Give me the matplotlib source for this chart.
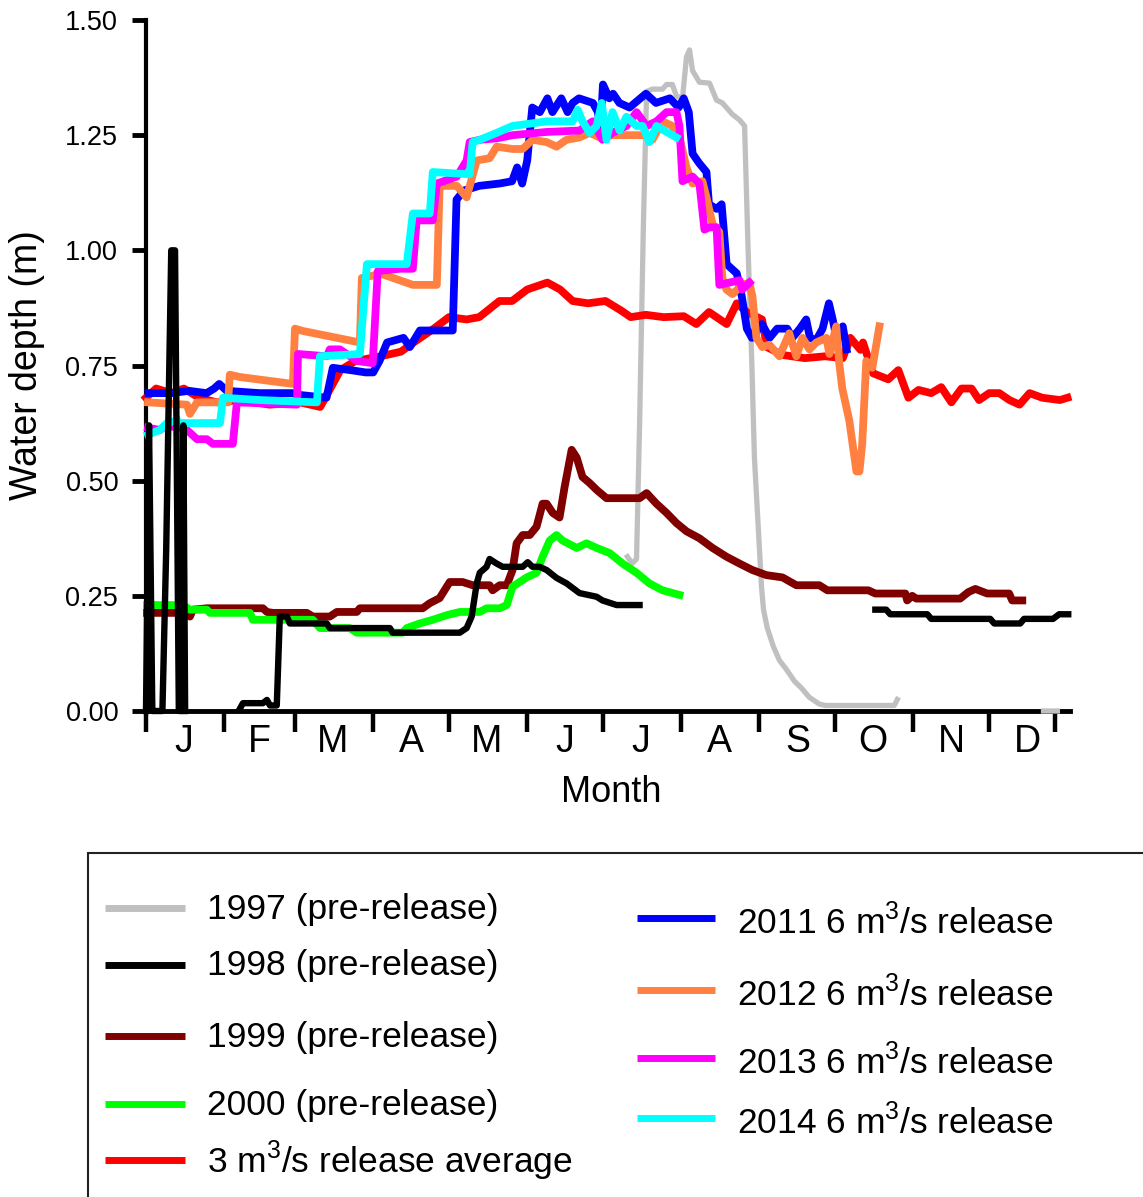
import matplotlib
matplotlib.use('Agg')
import matplotlib.pyplot as plt
import numpy as np
from matplotlib.lines import Line2D
from matplotlib.patches import Rectangle

plt.rcParams['font.family'] = ['Liberation Sans', 'DejaVu Sans']
plt.rcParams['mathtext.fontset'] = 'custom'
plt.rcParams['mathtext.rm'] = 'Liberation Sans'

nan = np.nan

# x = day of year, y = water depth (m)
month_starts = [0, 31, 59, 90, 120, 151, 181, 212, 243, 273, 304, 334, 360]
month_mids = [15, 45, 74, 105, 135, 166, 196, 227, 258, 288, 319, 349]
month_letters = ['J', 'F', 'M', 'A', 'M', 'J', 'J', 'A', 'S', 'O', 'N', 'D']
y_ticks = [0.0, 0.25, 0.5, 0.75, 1.0, 1.25, 1.5]

gray97_day = [190.7, 192.5, 194.3, 195.5, 197, 198.3, 200.6, 204.6, 206.2, 208.5, 210.1, 212.5, 214.1,
              215.3, 216.5, 219.2, 223.2, 226, 228.3, 232.3, 235.1, 237.1, 238.5, 240, 241, 242.5,
              243.8, 244.6, 246.1, 248.5, 250.9, 253.7, 256.8, 259.6, 262.7, 266.7, 269.1, 296.4,
              297.6, nan, 355.5, 361]
gray97_m = [0.335, 0.32, 0.33, 0.62, 1.05, 1.345, 1.35, 1.35, 1.36, 1.36, 1.335, 1.33, 1.42,
            1.435, 1.39, 1.365, 1.363, 1.326, 1.32, 1.295, 1.283, 1.27, 1.0, 0.75, 0.55, 0.40,
            0.27, 0.22, 0.18, 0.14, 0.11, 0.09, 0.065, 0.05, 0.03, 0.015, 0.012, 0.012,
            0.025, nan, 0.0, 0.0]

black98_day = [0, 1.2, 2.5, 4, 6.5, 8, 10, 11.5, 13, 14.2, 14.8, 15.5, nan,
               37.2, 38.4, 46.3, 47.9, 49.1, 51.8, 53, 55.8, 57, 71.6, 72.8, 96.6, 97.7, 124.3,
               127, 129, 131, 132.2, 134.9, 136.1, 138.9, 141.3, 149.2, 151.2, 153.1, 155.9,
               158.7, 162.6, 166.6, 171.7, 178.5, 180.8, 186.4, 195.5, nan,
               288.9, 293.2, 294.8, 309.5, 311, 334.4, 336, 346.3, 347.8, 359.3, 361.7, 365.3]
black98_m = [0.0, 0.62, 0.0, 0.0, 0.0, 0.35, 1.0, 1.0, 0.0, 0.0, 0.62, 0.0, nan,
             0.005, 0.017, 0.017, 0.024, 0.012, 0.012, 0.205, 0.205, 0.19, 0.19, 0.18, 0.18, 0.17, 0.17,
             0.18, 0.205, 0.277, 0.30, 0.313, 0.33, 0.32, 0.313, 0.313, 0.323, 0.313, 0.313,
             0.306, 0.289, 0.277, 0.256, 0.248, 0.24, 0.23, 0.23, nan,
             0.22, 0.22, 0.21, 0.21, 0.20, 0.20, 0.19, 0.19, 0.20, 0.20, 0.21, 0.21]

maroon99_day = [0.4, 14.6, 17.4, 18.6, 24.1, 46.3, 47.9, 50.3, 63.7, 66.1, 72.8, 75.6, 83.5, 84.7,
                109.6, 112.4, 116.3, 120.3, 125.4, 129.4, 136.1, 137.3, 140.1, 142.9, 145.2, 146.8,
                149.2, 152, 154.7, 157.1, 158.7, 161.1, 163.8, 165.8, 168.6, 170.6, 172.9, 175.7,
                178.5, 182.4, 195.5, 198.3, 202.2, 206.2, 210.1, 214.1, 219.2, 224.4, 229.9, 235.1,
                240.2, 245.7, 252.1, 257.6, 266.7, 269.9, 286.1, 288.9, 300.8, 301.5, 303.5, 305.1,
                322.5, 325.7, 328.5, 333.2, 341.9, 343.1, 347.1]
maroon99_m = [0.213, 0.213, 0.205, 0.22, 0.223, 0.223, 0.215, 0.213, 0.213, 0.205, 0.205, 0.215, 0.215, 0.223,
              0.223, 0.234, 0.245, 0.28, 0.28, 0.273, 0.273, 0.262, 0.273, 0.273, 0.306, 0.364,
              0.382, 0.382, 0.40, 0.45, 0.45, 0.43, 0.42, 0.486, 0.567, 0.55, 0.508, 0.495,
              0.48, 0.462, 0.462, 0.473, 0.45, 0.43, 0.408, 0.39, 0.375, 0.354, 0.335, 0.32,
              0.306, 0.295, 0.29, 0.273, 0.273, 0.262, 0.262, 0.255, 0.255, 0.24, 0.25, 0.244,
              0.244, 0.258, 0.265, 0.255, 0.255, 0.24, 0.24]

green00_day = [0.4, 14.6, 17.4, 24.1, 25.3, 41.2, 42.3, 66.1, 68.9, 80.7, 83.5, 101.7, 103.3, 108.4,
               113.6, 119.1, 124.3, 132.2, 134.9, 140.1, 142.9, 145.2, 150.8, 154.7, 157.1, 159.9,
               162.6, 165, 170.6, 174.5, 178.5, 183.6, 188.8, 194.3, 199.4, 204.6, 211.3]
green00_m = [0.23, 0.23, 0.22, 0.22, 0.213, 0.213, 0.198, 0.198, 0.18, 0.18, 0.17, 0.17, 0.18, 0.19,
             0.198, 0.208, 0.215, 0.215, 0.223, 0.223, 0.23, 0.27, 0.29, 0.30, 0.335, 0.37,
             0.382, 0.37, 0.354, 0.364, 0.354, 0.343, 0.32, 0.30, 0.277, 0.262, 0.252]

red_day = [0, 4, 10, 15, 21, 28, 37, 49, 61, 69, 73, 77, 83, 93, 101, 106, 114, 120, 127, 132,
           140, 145, 151, 159, 164, 169, 175, 182, 188, 192, 198, 205, 213, 218, 223, 230, 234, 238,
           244, 246, 252, 261, 269, 276, 279, 283, 284, 288, 294, 298, 302, 306, 311, 315, 319, 323,
           327, 330, 334, 338, 342, 346, 350, 355, 362, 365]
red_m = [0.68, 0.70, 0.69, 0.70, 0.68, 0.67, 0.675, 0.665, 0.67, 0.66, 0.70, 0.74, 0.76, 0.77, 0.78,
         0.80, 0.83, 0.855, 0.85, 0.855, 0.89, 0.89, 0.915, 0.93, 0.915, 0.89, 0.885, 0.89, 0.87,
         0.855, 0.86, 0.855, 0.857, 0.84, 0.866, 0.84, 0.885, 0.866, 0.85, 0.79, 0.773, 0.766, 0.77,
         0.766, 0.81, 0.784, 0.80, 0.733, 0.72, 0.74, 0.68, 0.697, 0.69, 0.703, 0.67, 0.70, 0.70,
         0.675, 0.69, 0.69, 0.675, 0.665, 0.69, 0.68, 0.675, 0.68]

blue11_day = [1, 10, 17, 24, 27, 29, 32, 45, 58, 61, 71.5, 74, 81, 87, 90, 92.5, 95.5, 102, 104.5, 108.5,
              121.5, 123, 126, 132, 140, 145, 147, 149, 151, 153, 156, 159, 161, 164.5, 167, 169, 171.5,
              177, 179, 180, 181, 183.5, 185, 187.5, 191.5, 198, 202, 207.5, 211, 213, 215, 216.5, 219,
              222, 223, 226, 228, 230, 234, 236, 238, 240, 244, 247, 250, 254, 256, 259, 261.5, 263,
              265.5, 268, 270.5, 272, 273.5, 276, 277.5]
blue11_m = [0.69, 0.69, 0.695, 0.69, 0.70, 0.71, 0.695, 0.69, 0.69, 0.686, 0.68, 0.745, 0.74, 0.735,
            0.735, 0.76, 0.80, 0.81, 0.79, 0.826, 0.826, 1.11, 1.13, 1.14, 1.145, 1.15, 1.18, 1.145,
            1.195, 1.31, 1.30, 1.33, 1.30, 1.33, 1.30, 1.32, 1.33, 1.32, 1.30, 1.26, 1.36, 1.33, 1.34,
            1.32, 1.31, 1.34, 1.32, 1.33, 1.31, 1.33, 1.30, 1.21, 1.19, 1.17, 1.10, 1.09, 1.10, 0.97,
            0.95, 0.90, 0.83, 0.81, 0.84, 0.81, 0.83, 0.83, 0.81, 0.83, 0.85, 0.81, 0.805, 0.83, 0.885,
            0.85, 0.81, 0.835, 0.785]

orange12_day = [0.8, 16.2, 17.4, 20.2, 29.3, 32.5, 33.2, 37.2, 58.2, 59, 62.1, 84.7, 85.5, 89.8, 92.6,
                100.5, 105.7, 115.2, 116.3, 123.1, 127, 131, 136.1, 138.9, 145.2, 149.2, 153.1, 158.7,
                162.6, 166.6, 171.7, 175.7, 179.7, 184.8, 198.3, 200.6, 204.6, 208.5, 211.3, 214.1,
                216.5, 220.4, 222, 224.4, 227.1, 228.3, 229.9, 232.3, 236.2, 239, 240.2, 241.8, 244.1,
                246.9, 250.9, 254.8, 257.6, 260, 262.8, 265.5, 269.5, 270.7, 273.4, 274.6, 275.8, 278.6,
                281.4, 282.6, 283.7, 285.3, 287.7, 290.5]
orange12_m = [0.67, 0.665, 0.645, 0.67, 0.67, 0.67, 0.73, 0.725, 0.71, 0.83, 0.825, 0.80, 0.94, 0.945,
              0.95, 0.935, 0.925, 0.925, 1.14, 1.14, 1.115, 1.195, 1.20, 1.225, 1.22, 1.22, 1.24, 1.235,
              1.225, 1.24, 1.245, 1.255, 1.245, 1.25, 1.25, 1.24, 1.28, 1.27, 1.245, 1.18, 1.145, 1.15,
              1.115, 1.057, 1.04, 0.94, 0.915, 0.905, 0.925, 0.93, 0.90, 0.81, 0.79, 0.795, 0.77, 0.82,
              0.77, 0.81, 0.785, 0.80, 0.81, 0.775, 0.835, 0.755, 0.70, 0.63, 0.52, 0.52, 0.58, 0.76,
              0.745, 0.835]

magenta13_day = [0.8, 5.5, 8.3, 16.2, 20.2, 24.1, 26.5, 34.4, 36, 59.8, 60.2, 71.6, 72.8, 76.8, 83.5,
                 89.8, 91.8, 100.5, 105.7, 107.2, 113.6, 115.2, 123.1, 127, 128.2, 132.2, 138.9, 145.2,
                 158.7, 171.7, 176.9, 180.8, 184.8, 190.3, 194.3, 198.3, 202.2, 206.2, 210.1, 211.3,
                 212.5, 216.5, 219.2, 221.2, 223.2, 226, 227.1, 235.1, 236.2, 239]
magenta13_m = [0.615, 0.61, 0.62, 0.61, 0.59, 0.59, 0.58, 0.58, 0.67, 0.665, 0.775, 0.77, 0.785, 0.785,
               0.76, 0.755, 0.955, 0.96, 0.96, 1.065, 1.065, 1.145, 1.16, 1.195, 1.235, 1.24, 1.243,
               1.25, 1.257, 1.26, 1.28, 1.24, 1.255, 1.27, 1.30, 1.27, 1.28, 1.30, 1.30, 1.27, 1.15,
               1.16, 1.145, 1.045, 1.05, 1.05, 0.925, 0.935, 0.915, 0.93]

cyan14_day = [0.8, 5.5, 8.3, 12.3, nan, 14.6, 29.3, 30.5, 45.1, 67.7, 68.9, 84.7, 87.5, 100.5, 103.3,
              105.7, 112.4, 113.6, 128.2, 129.4, 132.2, 138.9, 145.2, 152, 158.7, 169, 171, 172.9,
              175.7, 178.5, 180.5, 182.4, 184.8, 187.6, 190.3, 194.3, 196.7, 199.4, 202.2, 206.2, 210.1]
cyan14_m = [0.60, 0.61, 0.625, 0.63, nan, 0.625, 0.625, 0.68, 0.675, 0.67, 0.77, 0.775, 0.97, 0.97, 0.97,
            1.08, 1.08, 1.17, 1.165, 1.235, 1.24, 1.255, 1.27, 1.275, 1.28, 1.28, 1.305, 1.28,
            1.255, 1.27, 1.32, 1.24, 1.30, 1.26, 1.29, 1.27, 1.27, 1.235, 1.27, 1.257, 1.245]

m3 = r'm$^{\mathregular{3}}$/s'
labels_left = ['1997 (pre-release)', '1998 (pre-release)', '1999 (pre-release)',
               '2000 (pre-release)', '3 ' + m3 + ' release average']
colors_left = ['#c0c0c0', '#000000', '#800000', '#00ff00', '#ff0000']
labels_right = ['2011 6 ' + m3 + ' release', '2012 6 ' + m3 + ' release',
                '2013 6 ' + m3 + ' release', '2014 6 ' + m3 + ' release']
colors_right = ['#0000ff', '#ff8040', '#ff00ff', '#00ffff']

W, H = 1143, 1197
fig = plt.figure(figsize=(W / 100, H / 100), dpi=100)
ax = fig.add_axes([146 / W, 1 - 711 / H, (1070 - 146) / W, 691 / H])

lw = 5.6
kw = dict(clip_on=False, solid_joinstyle='round')
ax.plot(gray97_day, gray97_m, color=colors_left[0], lw=3.8, zorder=3, **kw)
ax.plot(red_day, red_m, color=colors_left[4], lw=lw, zorder=4, **kw)
ax.plot(blue11_day, blue11_m, color=colors_right[0], lw=lw, zorder=5, **kw)
ax.plot(orange12_day, orange12_m, color=colors_right[1], lw=lw, zorder=6, **kw)
ax.plot(magenta13_day, magenta13_m, color=colors_right[2], lw=lw, zorder=7, **kw)
ax.plot(cyan14_day, cyan14_m, color=colors_right[3], lw=lw, zorder=8, **kw)
ax.plot(maroon99_day, maroon99_m, color=colors_left[2], lw=lw, zorder=9, **kw)
ax.plot(green00_day, green00_m, color=colors_left[3], lw=lw, zorder=10, **kw)
ax.plot(black98_day, black98_m, color=colors_left[1], lw=4.6, zorder=11, **kw)

ax.set_xlim(0, 366)
ax.set_ylim(0, 1.5)
for s in ['top', 'right']:
    ax.spines[s].set_visible(False)
ax.spines['left'].set_linewidth(3)
ax.spines['bottom'].set_linewidth(3.5)

ax.set_yticks(y_ticks)
ax.set_yticklabels(['%.2f' % v for v in y_ticks], fontsize=19.5)
ax.tick_params(axis='y', direction='out', length=10, width=3.5, pad=10)

ax.set_xticks(month_starts)
ax.set_xticklabels([])
ax.set_xticks(month_mids, minor=True)
ax.set_xticklabels(month_letters, minor=True, fontsize=27)
ax.tick_params(axis='x', which='major', direction='out', length=15, width=3.2)
ax.tick_params(axis='x', which='minor', length=0, pad=9)

ax.set_xlabel('Month', fontsize=26)
ax.xaxis.set_label_coords(0.504, -0.093)
ax.set_ylabel('Water depth (m)', fontsize=27)
ax.yaxis.set_label_coords(-0.109, 0.5)

# legend box (cut off at the right and bottom)
fig.add_artist(Rectangle((88 / W, -0.05), 1.0, 1 - 853 / H + 0.05, transform=fig.transFigure,
                         fill=False, edgecolor='#222222', lw=1.5))

rows_left = [908, 965, 1036, 1104, 1160]
for lab, col, y in zip(labels_left, colors_left, rows_left):
    fig.add_artist(Line2D([105 / W, 185 / W], [1 - y / H, 1 - y / H], transform=fig.transFigure,
                          color=col, lw=5, solid_capstyle='butt'))
    fig.text(207 / W, 1 - (y + 1) / H, lab, fontsize=25.5, va='center', ha='left')

rows_right = [918, 990, 1058, 1118]
for lab, col, y in zip(labels_right, colors_right, rows_right):
    fig.add_artist(Line2D([637 / W, 715 / W], [1 - y / H, 1 - y / H], transform=fig.transFigure,
                          color=col, lw=5, solid_capstyle='butt'))
    fig.text(737 / W, 1 - (y + 4) / H, lab, fontsize=25.5, va='center', ha='left')

fig.savefig('out.png', dpi=100)
